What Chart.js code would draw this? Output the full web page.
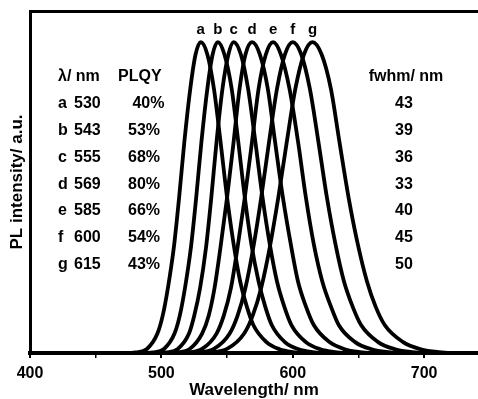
<!DOCTYPE html>
<html>
<head>
<meta charset="utf-8">
<script src="https://cdn.jsdelivr.net/npm/chart.js@4.4.1/dist/chart.umd.min.js"></script>
<style>
  body { margin: 0; background: #fff; }
  #plChart { display: block; }
</style>
</head>
<body>
<canvas id="plChart" width="478" height="399"></canvas>
<script>
// sample labels, peak positions and the small table
const letters = ['a', 'b', 'c', 'd', 'e', 'f', 'g'];
const peakNm = [530, 543, 555, 569, 585, 600, 615];
const plqy = [' 40%', '53%', '68%', '80%', '66%', '54%', '43%'];
const fwhm = [43, 39, 36, 33, 40, 45, 50];
const xTicks = [400, 500, 600, 700];

// normalised PL intensity (same levels for every curve)
const plLevel = [0, 0, 0, 0.002, 0.013, 0.0625, 0.12, 0.21, 0.34, 0.5, 0.68, 0.85, 0.96, 1,
  0.96, 0.85, 0.68, 0.5, 0.35, 0.23, 0.15, 0.09, 0.035, 0.012, 0.003, 0, 0];

// wavelength (nm) where each curve reaches the levels above
const nmA = [400, 464, 472, 480.5, 489, 497, 501, 505, 509.5, 513.5, 517.5, 522, 526, 530, 535, 540, 545, 550, 555, 560, 565, 570, 580, 590, 600, 610, 741];
const nmB = [400, 477, 485, 493.5, 502, 510, 514, 518, 522.5, 526.5, 530.5, 535, 539, 543, 548, 553.5, 558.5, 563.5, 568.5, 574, 579, 584, 594, 604.5, 615, 625, 741];
const nmC = [400, 487, 495.5, 504, 512.5, 521, 525, 529.5, 534, 538, 542, 546.5, 551, 555, 560.5, 566, 571.5, 577, 582.5, 588, 593.5, 599, 610, 621, 632, 643, 741];
const nmD = [400, 493, 502.5, 512, 521.5, 531, 536, 540.5, 545, 550, 555, 559.5, 564, 569, 575, 581, 586.5, 592.5, 598.5, 604, 610, 616, 628, 639.5, 651, 663, 741];
const nmE = [400, 499, 510, 520.5, 531, 542, 547.5, 553, 558, 563.5, 569, 574, 579.5, 585, 591, 597.5, 604, 610, 616, 622.5, 629, 635, 647.5, 660, 672.5, 685, 741];
const nmF = [400, 504, 516, 528, 540, 552, 558, 564, 570, 576, 582, 588, 594, 600, 606.5, 613, 619.5, 626, 632.5, 639, 645.5, 652, 665, 678, 691, 704, 741];
const nmG = [400, 511, 524, 537, 550, 563, 569.5, 576, 582.5, 589, 595.5, 602, 608.5, 615, 622, 629, 635.5, 642.5, 649.5, 656.5, 663, 670, 684, 697.5, 711, 725, 741];

const curves = [nmA, nmB, nmC, nmD, nmE, nmF, nmG];
const FONT = '"Liberation Sans", Arial, sans-serif';

const datasets = curves.map((nm, i) => ({
  label: letters[i],
  data: nm.map((w, k) => ({ x: w, y: plLevel[k] })),
  borderColor: '#000',
  borderWidth: 3.8,
  pointRadius: 0,
  fill: false,
  cubicInterpolationMode: 'monotone',
  borderJoinStyle: 'round',
  borderCapStyle: 'round',
}));

// letters over the peaks and the text table
const textPlugin = {
  id: 'plText',
  afterDatasetsDraw(chart) {
    const { ctx, scales: { x, y } } = chart;
    ctx.save();
    ctx.fillStyle = '#000';
    ctx.textBaseline = 'middle';

    ctx.font = 'bold 15px ' + FONT;
    ctx.textAlign = 'center';
    letters.forEach((l, i) => {
      ctx.fillText(l, x.getPixelForValue(peakNm[i]), y.getPixelForValue(1) - 12);
    });

    ctx.font = 'bold 16px ' + FONT;
    const rowY = (i) => 77 + i * 26.8;
    ctx.textAlign = 'left';
    ctx.fillText('\u03bb/ nm', 58, rowY(0));
    ctx.fillText('PLQY', 118, rowY(0));
    ctx.textAlign = 'center';
    ctx.fillText('fwhm/ nm', 406, rowY(0));

    letters.forEach((l, i) => {
      const yy = rowY(i + 1);
      ctx.textAlign = 'left';
      ctx.fillText(l, 58, yy);
      ctx.fillText(String(peakNm[i]), 74, yy);
      ctx.fillText(plqy[i], 128, yy);
      ctx.textAlign = 'center';
      ctx.fillText(String(fwhm[i]), 404, yy);
    });
    ctx.restore();
  }
};

new Chart(document.getElementById('plChart'), {
  type: 'line',
  data: { datasets },
  plugins: [textPlugin],
  options: {
    responsive: false,
    animation: false,
    devicePixelRatio: 1,
    layout: { padding: 0 },
    plugins: {
      legend: { display: false },
      tooltip: { enabled: false },
    },
    scales: {
      x: {
        type: 'linear',
        position: 'bottom',
        min: 400,
        max: 741,
        afterFit(scale) { scale.height = 46; },
        afterBuildTicks(scale) {
          scale.ticks = [400, 450, 500, 550, 600, 650, 700].map(v => ({ value: v }));
        },
        border: { display: true, color: '#000', width: 4 },
        grid: {
          drawOnChartArea: false,
          drawTicks: true,
          tickLength: 5,
          color: '#000',
          lineWidth: (c) => (c.tick && xTicks.includes(c.tick.value) ? 2 : 1.5),
        },
        ticks: {
          color: '#000',
          padding: 6,
          maxRotation: 0,
          font: { family: FONT, size: 16, weight: 'bold' },
          callback: (v) => (xTicks.includes(v) ? String(v) : ''),
        },
        title: {
          display: true,
          text: 'Wavelength/ nm',
          color: '#000',
          padding: { top: 0, bottom: -2 },
          font: { family: FONT, size: 17, weight: 'bold' },
        },
      },
      xTop: {
        type: 'linear',
        position: 'top',
        min: 400,
        max: 741,
        afterFit(scale) { scale.height = 11; },
        border: { display: true, color: '#000', width: 3 },
        grid: { display: false, drawTicks: false },
        ticks: { display: false },
      },
      y: {
        type: 'linear',
        min: 0,
        max: 1.1,
        afterFit(scale) { scale.width = 30; },
        border: { display: true, color: '#000', width: 3 },
        grid: { display: false, drawTicks: false },
        ticks: { display: false },
        title: {
          display: true,
          text: 'PL intensity/ a.u.',
          color: '#000',
          padding: { top: 7, bottom: 0 },
          font: { family: FONT, size: 17, weight: 'bold' },
        },
      },
    },
  },
});
</script>
</body>
</html>
